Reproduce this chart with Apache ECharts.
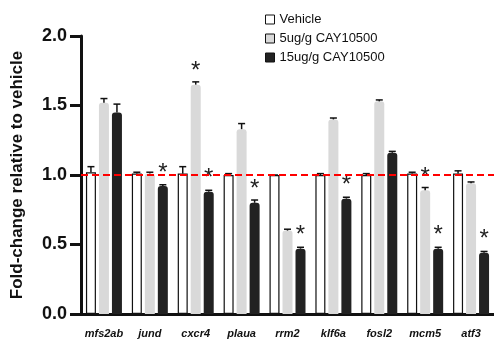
<!DOCTYPE html>
<html>
<head>
<meta charset="utf-8">
<script src="https://cdn.jsdelivr.net/npm/echarts@6/dist/echarts.min.js"></script>
<style>
  html, body { margin: 0; padding: 0; background: #fff; }
  #chart { width: 494px; height: 349px; }
</style>
</head>
<body>
<div id="chart"></div>
<script>
// genes on the x axis
const genes = ['mfs2ab', 'jund', 'cxcr4', 'plaua', 'rrm2', 'klf6a', 'fosl2', 'mcm5', 'atf3'];

// mean fold-change per group
const vehicle = [1.02, 1.01, 1.01, 1.00, 1.00, 1.00, 1.00, 1.01, 1.01];
const low = [1.52, 1.01, 1.65, 1.33, 0.60, 1.40, 1.53, 0.89, 0.94];
const high = [1.45, 0.92, 0.88, 0.80, 0.47, 0.83, 1.16, 0.47, 0.44];

// upper end of error bars
const vehicleErr = [1.06, 1.02, 1.06, 1.01, 1.00, 1.01, 1.01, 1.02, 1.03];
const lowErr = [1.55, 1.02, 1.67, 1.37, 0.61, 1.41, 1.54, 0.91, 0.95];
const highErr = [1.51, 0.93, 0.89, 0.82, 0.48, 0.84, 1.17, 0.48, 0.45];

// significance marks
const lowStar = [false, false, true, false, false, false, false, true, false];
const highStar = [false, true, true, true, true, true, false, true, true];

const yTicks = [0, 0.5, 1.0, 1.5, 2.0];

const names = ['Vehicle', '5ug/g CAY10500', '15ug/g CAY10500'];
const fills = ['#ffffff', '#d9d9d9', '#222222'];

function barSeries(i, data, errs, stars) {
  return {
    name: names[i],
    type: 'bar',
    data: data.map((v, k) => ({
      value: v,
      label: {
        show: !!(stars && stars[k]),
        position: 'top',
        distance: 1,
        formatter: '*',
        fontSize: 24,
        color: '#222',
        fontFamily: 'Liberation Sans'
      }
    })),
    barWidth: 10,
    barGap: '30%',
    itemStyle: {
      color: fills[i],
      borderColor: i === 0 ? '#111' : fills[i],
      borderWidth: i === 0 ? 1.2 : 0,
      borderRadius: i === 0 ? 0 : [3, 3, 0, 0]
    },
    z: 2
  };
}

// error bar (upper whisker only) via custom series, offset to each bar slot
function errSeries(i, data, errs) {
  return {
    type: 'custom',
    name: names[i] + ' err',
    z: 3,
    silent: true,
    data: data.map((v, k) => [k, v, errs[k]]),
    renderItem: function (params, api) {
      const base = api.coord([api.value(0), api.value(1)]);
      const top = api.coord([api.value(0), api.value(2)]);
      const off = (i - 1) * 13;
      const x = base[0] + off;
      return {
        type: 'group',
        children: [
          { type: 'line', shape: { x1: x, y1: base[1], x2: x, y2: top[1] }, style: { stroke: '#111', lineWidth: 1.5 } },
          { type: 'line', shape: { x1: x - 3.5, y1: top[1], x2: x + 3.5, y2: top[1] }, style: { stroke: '#111', lineWidth: 1.5 } }
        ]
      };
    }
  };
}

const chart = echarts.init(document.getElementById('chart'));
chart.setOption({
  animation: false,
  textStyle: { fontFamily: 'Liberation Sans' },
  legend: {
    orient: 'vertical',
    left: 260,
    top: 8,
    icon: 'rect',
    itemWidth: 9,
    itemHeight: 9,
    itemGap: 6,
    data: names,
    textStyle: { fontSize: 13, color: '#111', fontFamily: 'Liberation Sans' },
    itemStyle: { borderColor: '#111', borderWidth: 1 }
  },
  grid: { left: 81, right: -3, top: 36, bottom: 35 },
  xAxis: {
    type: 'category',
    data: genes,
    axisLine: { lineStyle: { color: '#111', width: 3 } },
    axisTick: { alignWithLabel: true, length: 9, lineStyle: { width: 3, color: '#111' } },
    axisLabel: { interval: 0, fontStyle: 'italic', fontWeight: 'bold', fontSize: 11, color: '#111', margin: 14 }
  },
  yAxis: {
    type: 'value',
    min: 0,
    max: 2,
    interval: 0.5,
    name: 'Fold-change relative to vehicle',
    nameLocation: 'middle',
    nameGap: 55,
    nameTextStyle: { fontSize: 17, fontWeight: 'bold', color: '#111' },
    axisLine: { show: true, lineStyle: { color: '#111', width: 3 } },
    axisTick: { show: true, length: 11, lineStyle: { width: 3, color: '#111' } },
    axisLabel: {
      fontSize: 18,
      fontWeight: 'bold',
      color: '#111',
      margin: 14,
      formatter: v => yTicks.indexOf(v) >= 0 ? v.toFixed(1) : ''
    },
    splitLine: { show: false }
  },
  series: [
    Object.assign(barSeries(0, vehicle, vehicleErr, null), {
      markLine: {
        silent: true,
        symbol: 'none',
        label: { show: false },
        lineStyle: { color: '#ff0000', type: [7, 4], width: 2 },
        data: [{ yAxis: 1.0 }],
        z: 5
      }
    }),
    barSeries(1, low, lowErr, lowStar),
    barSeries(2, high, highErr, highStar),
    errSeries(0, vehicle, vehicleErr),
    errSeries(1, low, lowErr),
    errSeries(2, high, highErr)
  ]
});
</script>
</body>
</html>
